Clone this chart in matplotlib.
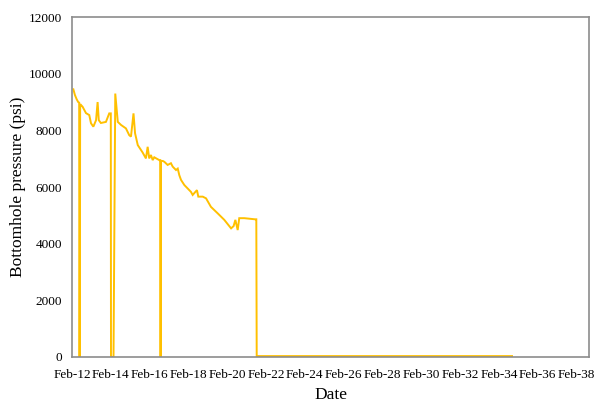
import matplotlib

matplotlib.use("Agg")

import matplotlib.pyplot as plt

# Bottomhole pressure log: day of February vs pressure (psi).
# Shut-ins show up as sudden drops to zero.
days = [
    12.07, 12.15, 12.24, 12.32, 12.37, 12.38, 12.40, 12.42, 12.46, 12.55,
    12.72, 12.89, 12.98, 13.10, 13.24, 13.32, 13.38, 13.49, 13.75, 13.92,
    14.00, 14.01, 14.14, 14.23, 14.36, 14.53, 14.78, 14.95, 15.04, 15.17,
    15.25, 15.39, 15.64, 15.81, 15.90, 15.98, 16.07, 16.16, 16.24, 16.50,
    16.55, 16.56, 16.57, 16.58, 16.68, 16.76, 16.93, 17.10, 17.19, 17.36,
    17.45, 17.53, 17.62, 17.79, 17.96, 18.13, 18.22, 18.44, 18.51, 18.74,
    18.91, 19.16, 19.51, 19.85, 20.20, 20.33, 20.42, 20.54, 20.62, 20.88,
    21.43, 21.50, 21.52, 34.68,
]
pressure = [
    9450, 9250, 9100, 9000, 8980, 0, 0, 8850, 8900, 8830,
    8610, 8540, 8250, 8130, 8360, 9000, 8360, 8260, 8300, 8600,
    8600, 0, 0, 9300, 8300, 8190, 8070, 7830, 7780, 8600,
    7900, 7480, 7220, 7010, 7420, 7010, 7130, 6950, 7050, 6950,
    6950, 0, 0, 6920, 6920, 6890, 6780, 6840, 6720, 6600,
    6650, 6420, 6250, 6070, 5950, 5830, 5720, 5890, 5660, 5660,
    5600, 5300, 5070, 4840, 4540, 4620, 4840, 4480, 4900, 4900,
    4860, 4860, 30, 30,
]

tick_days = list(range(12, 39, 2))
tick_labels = [f"Feb-{d}" for d in tick_days]
y_ticks = [0, 2000, 4000, 6000, 8000, 10000, 12000]

plt.rcParams["font.family"] = ["Liberation Serif", "DejaVu Serif"]

fig = plt.figure(figsize=(5.95, 4.07), dpi=100)
ax = fig.add_axes([0.121, 0.123, 0.869, 0.835])

ax.plot(days, pressure, color="#FFC000", lw=1.4, solid_joinstyle="miter")

ax.set_xlim(12, 38.65)
ax.set_ylim(0, 12000)
ax.set_xticks(tick_days)
ax.set_xticklabels(tick_labels)
ax.set_yticks(y_ticks)
ax.tick_params(axis="both", length=0, labelsize=9.5, colors="#000000")
ax.tick_params(axis="x", pad=9)
ax.tick_params(axis="y", pad=7)

for sp in ax.spines.values():
    sp.set_color("#8c8c8c")
    sp.set_linewidth(1.2)

ax.set_xlabel("Date", fontsize=12.5, labelpad=4)
ax.set_ylabel("Bottomhole pressure (psi)", fontsize=12.5, labelpad=2)

fig.savefig("out.png", dpi=100)
